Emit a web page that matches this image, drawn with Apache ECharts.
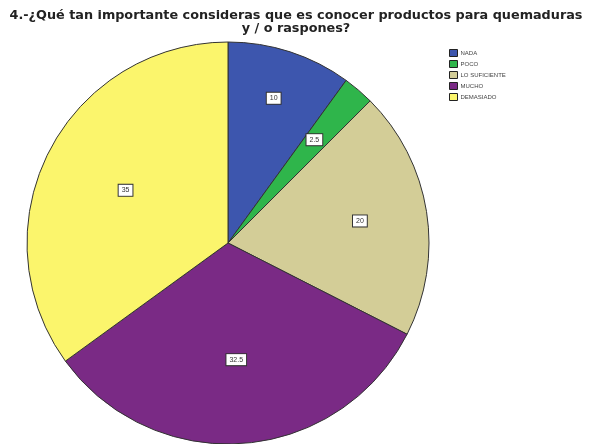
<!DOCTYPE html>
<html><head><meta charset="utf-8">
<script src="https://cdn.jsdelivr.net/npm/echarts@6/dist/echarts.min.js"></script>
<style>html,body{margin:0;padding:0;background:#fff}#c{width:592px;height:444px}</style>
</head><body><div id="c"></div>
<script>
const categories = ['NADA', 'POCO', 'LO SUFICIENTE', 'MUCHO', 'DEMASIADO'];
const values = [10, 2.5, 20, 32.5, 35];
const labels = ['10', '2.5', '20', '32.5', '35'];
const colors = ['#3d56ae', '#2fb54b', '#d3cd97', '#7a2a85', '#fbf56c'];

const CENTER = [228, 243];
const labelRadiusFrac = [0.73, 0.65, 0.65, 0.57, 0.55];

const chart = echarts.init(document.getElementById('c'));
chart.setOption({
  animation: false,
  title: {
    text: '4.-¿Qué tan importante consideras que es conocer productos para quemaduras\ny / o raspones?',
    left: 'center', top: 4,
    textStyle: {fontFamily: 'DejaVu Sans', fontSize: 12.8, fontWeight: 'bold', color: '#222', lineHeight: 13}
  },
  legend: {
    orient: 'vertical', left: 444, top: 44,
    itemWidth: 8, itemHeight: 7, itemGap: 3,
    icon: 'rect',
    itemStyle: {borderColor: '#222', borderWidth: 1},
    textStyle: {fontFamily: 'Liberation Sans, Arial', fontSize: 6, color: '#444', padding: [0,0,0,-2]},
    data: categories
  },
  series: [{
    type: 'pie',
    center: CENTER,
    radius: [0, 201],
    startAngle: 90,
    clockwise: true,
    silent: true,
    itemStyle: {borderColor: '#333', borderWidth: 1},
    label: {
      show: true, position: 'inside',
      formatter: p => labels[p.dataIndex],
      fontFamily: 'Liberation Sans, Arial', fontSize: 7, color: '#333',
      backgroundColor: '#fff', borderColor: '#333', borderWidth: 1,
      padding: [2, 3]
    },
    labelLayout: function (p) {
      const r = p.labelRect;
      const cx = r.x + r.width / 2, cy = r.y + r.height / 2;
      const k = 2 * labelRadiusFrac[p.dataIndex];
      const nx = CENTER[0] + (cx - CENTER[0]) * k;
      const ny = CENTER[1] + (cy - CENTER[1]) * k;
      return {x: nx - r.width / 2, y: ny - r.height / 2, align: 'left', verticalAlign: 'top'};
    },
    labelLine: {show: false},
    data: categories.map((c, i) => ({name: c, value: values[i], itemStyle: {color: colors[i]}}))
  }]
});
</script></body></html>
